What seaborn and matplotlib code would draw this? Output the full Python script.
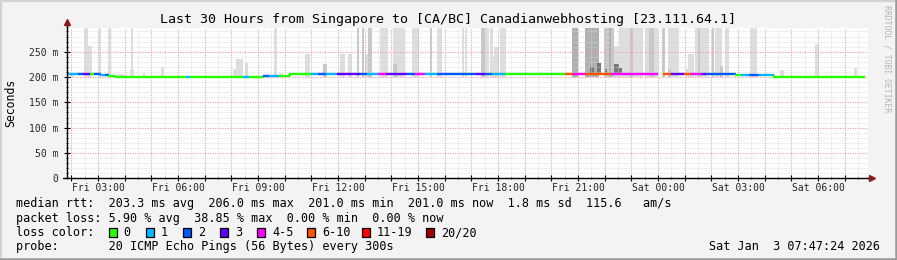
import numpy as np
import matplotlib
matplotlib.use("Agg")
import matplotlib.pyplot as plt
import seaborn as sns
from matplotlib.ticker import MultipleLocator, FuncFormatter
from matplotlib.patches import Rectangle
from matplotlib.lines import Line2D

# ---------------- data (hours since Fri 00:00, values in ms) ----------------
title = "Last 30 Hours from Singapore to [CA/BC] Canadianwebhosting [23.111.64.1]"
days = ["Fri", "Sat"]

# median rtt, run-length encoded: start hour, median (ms), loss bucket
seg_start = [1.80, 2.25, 2.44, 2.70, 2.85, 3.11, 3.25, 3.41, 3.67, 6.30, 6.45, 8.44, 8.66,
             9.22, 9.41, 9.80, 10.20, 10.99, 11.25, 11.55, 11.96, 12.82, 13.10, 13.50, 13.80,
             14.29, 14.60, 14.90, 15.26, 15.70, 16.42, 17.17, 17.50, 17.77, 18.26, 20.51,
             20.80, 21.26, 22.24, 24.00, 24.19, 24.49, 24.97, 25.24, 25.60, 25.80, 26.14,
             26.92, 27.11, 27.40, 27.79, 28.35]
seg_median = [205, 205, 205, 205, 205, 204, 204, 203, 201, 201, 201, 201, 201,
              202, 202, 202, 205, 205, 205, 205, 205, 205, 205, 205, 205,
              205, 205, 205, 205, 205, 205, 205, 205, 205, 205, 205,
              205, 206, 205, np.nan, 205, 205, 205, 205, 205, 205, 205,
              204, 204, 204, 204, 201]
seg_loss = [1, 2, 3, 0, 2, 1, 2, 0, 0, 1, 0, 1, 0,
            2, 1, 0, 0, 1, 2, 1, 3, 2, 1, 4, 3,
            3, 2, 4, 1, 2, 2, 3, 2, 1, 0, 5,
            4, 5, 4, 0, 5, 3, 5, 4, 3, 2, 2,
            0, 1, 2, 1, 0]
data_end = 31.76

# smoke (ping spread): start hour, end hour, top (ms), density level
smoke_start = [1.95, 2.47, 2.62, 3.04, 3.37, 3.71, 4.20, 4.69, 5.36, 8.06, 8.17, 8.32,
               8.51, 9.60, 9.79, 10.76, 12.07, 12.37, 12.71, 12.89, 13.01, 13.57, 14.06,
               14.77, 15.45, 15.71, 16.65, 16.76, 17.51, 17.70, 17.70, 17.85, 18.08,
               20.77, 21.26, 22.06, 22.24, 22.35, 22.54, 22.73, 23.06, 23.21, 23.51, 23.66,
               23.79, 24.15, 24.38, 25.05, 25.13, 25.40, 25.63, 26.14, 26.33, 26.51, 27.45,
               28.58, 29.89, 31.35, 4.24, 11.42, 13.13, 14.06, 17.36, 18.08, 21.26, 21.96,
               22.96, 23.66, 24.38, 25.51, 26.02, 21.45, 21.71, 22.01, 22.16, 22.36, 22.50]
smoke_end = [2.10, 2.62, 2.77, 3.11, 3.49, 3.97, 4.35, 4.76, 5.47, 8.32, 8.43, 8.44,
             8.62, 9.71, 9.94, 10.95, 12.26, 12.52, 12.78, 12.97, 13.28, 13.87, 14.51,
             15.04, 15.53, 15.90, 16.73, 16.84, 17.66, 17.85, 17.81, 18.04, 18.30,
             20.99, 21.79, 22.24, 22.35, 22.54, 22.76, 22.99, 23.32, 23.44, 23.66, 23.85,
             23.99, 24.26, 24.79, 25.20, 25.36, 25.70, 25.90, 26.40, 26.44, 26.66, 27.71,
             28.73, 30.02, 31.46, 4.31, 11.60, 13.28, 14.21, 17.51, 18.30, 21.79, 22.24,
             23.06, 23.85, 24.49, 25.59, 26.09, 21.60, 21.86, 22.09, 22.24, 22.54, 22.65]
smoke_top = [208, 300, 262, 300, 300, 205, 213, 207, 220, 215, 235, 208,
             227, 300, 207, 245, 245, 245, 300, 300, 245, 300, 300,
             300, 300, 300, 300, 300, 300, 240, 300, 260, 300,
             300, 300, 300, 300, 262, 300, 300, 300, 300, 300, 235,
             300, 300, 300, 215, 245, 300, 300, 300, 222, 300, 300,
             213, 265, 218, 300, 226, 300, 225, 300, 300, 300, 300,
             300, 300, 215, 300, 300, 220, 228, 215, 300, 225, 218]
smoke_level = [0, 0, 0, 0, 0, 0, 0, 0, 0, 0, 0, 0,
               0, 0, 0, 0, 0, 0, 1, 1, 0, 0, 0,
               0, 1, 0, 0, 0, 0, 0, 0, 0, 0,
               2, 1, 0, 1, 0, 0, 0, 0, 0, 0, 0,
               0, 1, 0, 0, 0, 0, 0, 0, 1, 0, 0,
               0, 0, 0, 0, 1, 1, 1, 1, 0, 2, 1,
               1, 1, 1, 1, 1, 3, 3, 3, 2, 3, 3]

loss_labels = ["0", "1", "2", "3", "4-5", "6-10", "11-19", "20/20"]
loss_colors = ["#26ff00", "#00b8ff", "#0059ff", "#5e00ff", "#ff00ff", "#ff5500", "#ff0000", "#a10000"]
smoke_shades = ["#dedede", "#c8c8c8", "#b0b0b0", "#767676"]

legend_lines = [
    "median rtt:  203.3 ms avg  206.0 ms max  201.0 ms min  201.0 ms now  1.8 ms sd  115.6   am/s",
    "packet loss: 5.90 % avg  38.85 % max  0.00 % min  0.00 % now",
    "loss color:",
    "probe:       20 ICMP Echo Pings (56 Bytes) every 300s",
]
stamp = "Sat Jan  3 07:47:24 2026"

# ---------------- style ----------------
sns.set_theme(style="white")
plt.rcParams["font.family"] = ["DejaVu Sans Mono"]
plt.rcParams["axes.linewidth"] = 1.0

W, H = 897, 260
fig = plt.figure(figsize=(W / 100, H / 100), dpi=100)
fig.patch.set_facecolor("#f3f3f3")


def fx(px):
    return px / W


def fy(py):
    return 1 - py / H


ax = fig.add_axes([fx(67), fy(178.3), fx(868 - 67), (178.3 - 27.5) / H])
ax.set_facecolor("white")
ax.set_xlim(1.84, 31.87)
ax.set_ylim(0, 297.8)

# smoke
for lvl in range(4):
    idx = [i for i in range(len(smoke_start)) if smoke_level[i] == lvl]
    if not idx:
        continue
    xs = np.array([smoke_start[i] for i in idx])
    xe = np.array([smoke_end[i] for i in idx])
    top = np.array([smoke_top[i] for i in idx])
    bottom = 200.0 if lvl < 3 else 204.0
    ax.bar(xs, top - bottom, width=xe - xs, bottom=bottom, align="edge",
           color=smoke_shades[lvl], linewidth=0, zorder=1 + lvl * 0.1)

# median line colored by loss
n = len(seg_start)
for i in range(n):
    m = seg_median[i]
    if np.isnan(m):
        continue
    s = seg_start[i]
    e = seg_start[i + 1] if i + 1 < n else data_end
    prev = seg_median[i - 1] if i > 0 and not np.isnan(seg_median[i - 1]) else m
    ax.plot([s, s, e], [prev, m, m], color=loss_colors[seg_loss[i]], lw=1.7,
            solid_capstyle="butt", solid_joinstyle="miter", zorder=3)

# grid
ax.xaxis.set_major_locator(MultipleLocator(1))
ax.xaxis.set_minor_locator(MultipleLocator(0.5))
ax.yaxis.set_major_locator(MultipleLocator(50))
ax.yaxis.set_minor_locator(MultipleLocator(10))
ax.set_axisbelow(False)
ax.grid(which="major", axis="both", color="#f2a6a6", linestyle=(0, (1.2, 1.2)), linewidth=0.75)
ax.grid(which="minor", axis="both", color="#d6d6d6", linestyle=(0, (0.8, 1.2)), linewidth=0.6)
for gl in ax.get_xgridlines() + ax.get_ygridlines():
    gl.set_zorder(2)


def xfmt(h, pos):
    hr = int(round(h))
    if hr % 3 != 0:
        return ""
    return f"{days[hr // 24]} {hr % 24:02d}:00"


def yfmt(v, pos):
    return "0" if v == 0 else f"{int(v)} m"


ax.xaxis.set_major_formatter(FuncFormatter(xfmt))
ax.yaxis.set_major_formatter(FuncFormatter(yfmt))
ax.tick_params(axis="x", which="major", direction="inout", length=4, width=0.8,
               color="black", labelsize=7, pad=1.5, bottom=True)
ax.tick_params(axis="x", which="minor", direction="inout", length=2, width=0.6, color="black", bottom=True)
ax.tick_params(axis="y", which="major", direction="inout", length=4, width=0.8,
               color="black", labelsize=7, pad=4, left=True)
ax.tick_params(axis="y", which="minor", direction="inout", length=2, width=0.6, color="black", left=True)

sns.despine(ax=ax, top=True, right=True)
for sp in ("left", "bottom"):
    ax.spines[sp].set_color("black")
    ax.spines[sp].set_zorder(4)

# axis arrows (extensions beyond the plot)
fig.add_artist(Line2D([fx(67), fx(67)], [fy(27.5), fy(22)], color="black", lw=1.0))
fig.add_artist(Line2D([fx(868), fx(872)], [fy(178.3), fy(178.3)], color="black", lw=1.0))
fig.add_artist(Line2D([fx(63), fx(67)], [fy(178.3), fy(178.3)], color="black", lw=1.0))
fig.add_artist(Line2D([fx(67)], [fy(22)], marker="^", markersize=4.5, color="#8b1a1a", lw=0))
fig.add_artist(Line2D([fx(872)], [fy(178.3)], marker=">", markersize=4.5, color="#8b1a1a", lw=0))

# texts
fig.text(fx(447.5), fy(19), title, ha="center", va="center", fontsize=9.6, color="black")
fig.text(fx(11), fy(103), "Seconds", rotation=90, ha="center", va="center", fontsize=8.3, color="black")
fig.text(fx(887), fy(59), "RRDTOOL / TOBI OETIKER", rotation=270, ha="center", va="center",
         fontsize=5.9, color="#b4b4b4")

baselines = [207.5, 221.7, 236.0, 250.2]
for txt, b in zip(legend_lines, baselines):
    fig.text(fx(16), fy(b), txt, ha="left", va="baseline", fontsize=8.5, color="black")
fig.text(fx(880), fy(250.2), stamp, ha="right", va="baseline", fontsize=8.5, color="black")

box_x = [108.7, 145.7, 182.7, 220.0, 257.3, 307.3, 361.7, 426.0]
for bx, lab, col in zip(box_x, loss_labels, loss_colors):
    fig.add_artist(Rectangle((fx(bx), fy(236.5)), 8 / W, 9 / H, transform=fig.transFigure,
                             facecolor=col, edgecolor="black", linewidth=0.9))
    fig.text(fx(bx + 15), fy(236.0), lab, ha="left", va="baseline", fontsize=8.5, color="black")

# frame around the image
fig.add_artist(Line2D([0, 1], [fy(0.8), fy(0.8)], color="#d2d2d2", lw=1.5))
fig.add_artist(Line2D([fx(0.8), fx(0.8)], [0, 1], color="#d2d2d2", lw=1.5))
fig.add_artist(Line2D([0, 1], [fy(259), fy(259)], color="#9a9a9a", lw=1.8))
fig.add_artist(Line2D([fx(896), fx(896)], [0, 1], color="#9a9a9a", lw=1.8))

fig.savefig("out.png", dpi=100, facecolor=fig.get_facecolor())
